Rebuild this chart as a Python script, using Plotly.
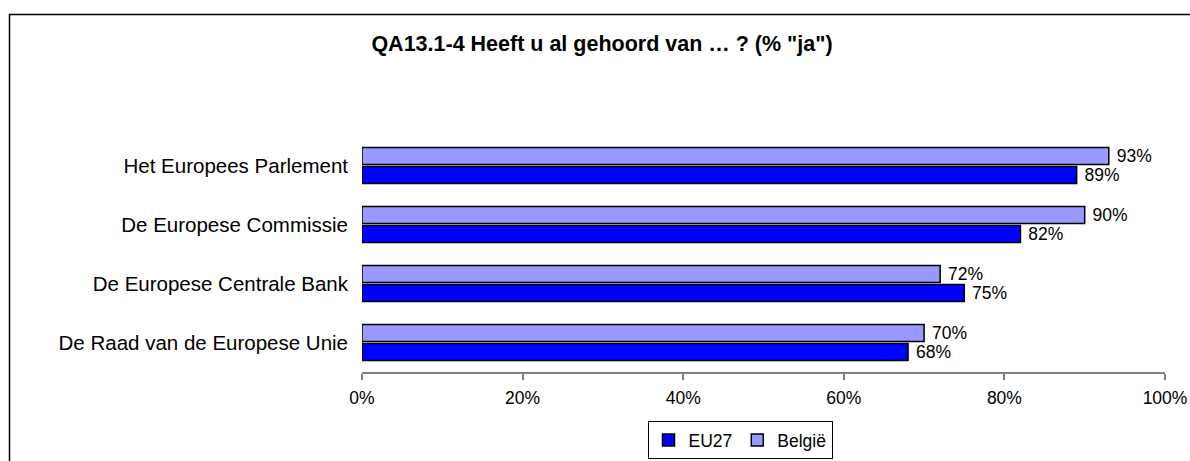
import plotly.graph_objects as go

categories = ["Het Europees Parlement", "De Europese Commissie",
              "De Europese Centrale Bank", "De Raad van de Europese Unie"]
eu27 = [0.89, 0.82, 0.75, 0.68]
belgie = [0.93, 0.90, 0.72, 0.70]
x_ticks = [0, 0.2, 0.4, 0.6, 0.8, 1.0]
title_text = 'QA13.1-4 Heeft u al gehoord van … ? (% "ja")'

W, H = 1190, 461
L, R, T, B = 362, 25, 136, 89
pw, ph = W - L - R, H - T - B

font = "Liberation Sans, Arial, sans-serif"

fig = go.Figure()
fig.add_trace(go.Bar(
    y=categories, x=eu27, name="EU27", orientation="h",
    marker=dict(color="#0000FF", line=dict(color="#000000", width=1.5)),
    text=[f" {v*100:.0f}%" for v in eu27], textposition="outside",
    constraintext="none", cliponaxis=False,
    textfont=dict(size=17.5, color="#000000", family=font),
))
fig.add_trace(go.Bar(
    y=categories, x=belgie, name="België", orientation="h",
    marker=dict(color="#9999FF", line=dict(color="#000000", width=1.5)),
    text=[f" {v*100:.0f}%" for v in belgie], textposition="outside",
    constraintext="none", cliponaxis=False,
    textfont=dict(size=17.5, color="#000000", family=font),
))

# outer chart border
fig.add_shape(type="rect", xref="paper", yref="paper",
              x0=(9.5 - L) / pw, x1=(W + 10 - L) / pw,
              y0=-(H + 10 - (H - B)) / ph, y1=((H - B) - 14.5) / ph,
              line=dict(color="#000000", width=1.5), fillcolor="rgba(0,0,0,0)",
              layer="below")

fig.update_layout(
    width=W, height=H,
    margin=dict(l=L, r=R, t=T, b=B, pad=0, autoexpand=False),
    paper_bgcolor="white", plot_bgcolor="white",
    barmode="group", bargap=0.36, bargroupgap=0.1,
    font=dict(family=font, color="#000000"),
    title=dict(text="<b>" + title_text + "</b>", xref="container", x=602 / W,
               xanchor="center", yref="container", y=1 - 43 / H, yanchor="middle",
               font=dict(size=21.5, family=font, color="#000000")),
    showlegend=True,
    legend=dict(orientation="h", x=(740 - L) / pw, xanchor="center",
                y=-(421 - (H - B)) / ph, yanchor="top",
                bordercolor="#000000", borderwidth=1,
                font=dict(size=17.5, family=font, color="#000000"),
                traceorder="normal", itemwidth=30, tracegroupgap=0),
)
fig.update_xaxes(range=[0, 1], tickvals=x_ticks, tickformat=".0%",
                 showgrid=False, zeroline=False, showline=True,
                 linecolor="#808080", linewidth=1.5, automargin=False,
                 ticks="outside", ticklen=6, tickcolor="#808080", tickwidth=1.5,
                 ticklabelstandoff=3,
                 tickfont=dict(size=17.5, family=font, color="#000000"))
fig.update_yaxes(categoryorder="array", categoryarray=categories[::-1],
                 showgrid=False, zeroline=False, showline=False, ticks="",
                 ticklabelstandoff=13, automargin=False,
                 tickfont=dict(size=20.5, family=font, color="#000000"))

fig.write_html("out.html", config={"displayModeBar": False},
               post_script="document.body.style.margin='0';")
